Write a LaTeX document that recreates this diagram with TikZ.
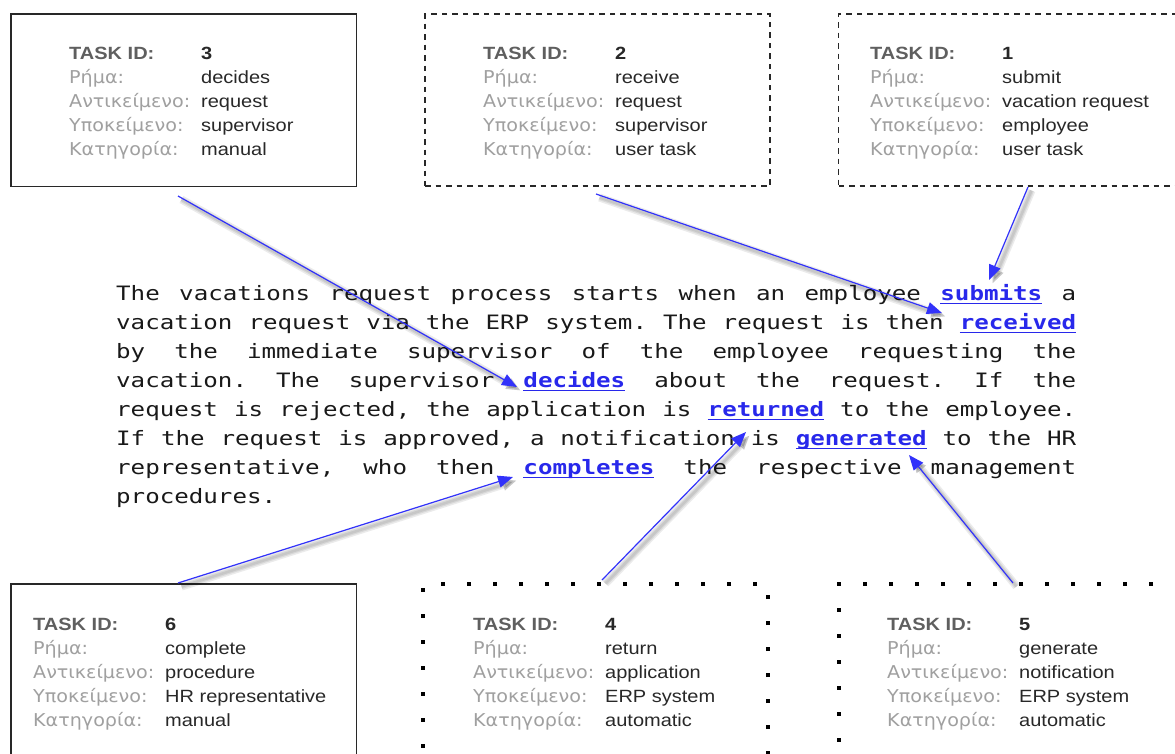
\documentclass[tikz,border=0pt]{standalone}
\usepackage{fontspec}
\usetikzlibrary{arrows.meta}
\setmainfont{Liberation Sans}[FakeStretch=1.13]
\newfontfamily\monofont{DejaVu Sans Mono}[FakeStretch=1.22]
\newfontfamily\greekfont{DejaVu Sans}[FakeStretch=1.08]

\definecolor{linkblue}{RGB}{40,40,235}
\definecolor{arrowblue}{RGB}{50,50,250}
\definecolor{labelgray}{RGB}{160,160,160}
\definecolor{headgray}{RGB}{95,95,95}
\definecolor{valuedark}{RGB}{40,40,40}
\definecolor{textdark}{RGB}{25,25,25}
\definecolor{framegray}{RGB}{40,40,40}

% task card: label column + value column
\newlength\colw \setlength\colw{132pt}
\newcommand\taskrow[2]{\hbox{\makebox[\colw][l]{\greekfont\color{labelgray}#1}{\color{valuedark}#2}}}
\newcommand\taskinfo[5]{\vtop{\baselineskip=24pt
  \hbox{\makebox[\colw][l]{\bfseries\color{headgray}TASK ID:}{\bfseries\color{valuedark}#1}}%
  \taskrow{Ρήμα:}{#2}%
  \taskrow{Αντικείμενο:}{#3}%
  \taskrow{Υποκείμενο:}{#4}%
  \taskrow{Κατηγορία:}{#5}}}

% justified prose line and underlined link word
\newsavebox\lnkbox
\newcommand\jline[1]{\hbox to 960pt{\frenchspacing\spaceskip=\fontdimen2\font plus 1fil minus 1pt\relax #1}}
\newcommand\lnk[1]{\sbox\lnkbox{\color{linkblue}\bfseries #1}%
  \rlap{{\color{linkblue}\rule[-3.8pt]{\wd\lnkbox}{1.4pt}}}\usebox\lnkbox}

\tikzset{
  boxsolid/.style={rectangle, inner sep=0pt, outer sep=0pt, draw=framegray, line width=1.3pt},
  boxdashed/.style={boxsolid, dash pattern=on 5.5pt off 5pt},
  boxdotted/.style={rectangle, inner sep=0pt, outer sep=0pt, draw=black, line width=4pt, dash pattern=on 4pt off 22pt},
  info/.style={anchor=base west, inner sep=0pt, font=\fontsize{17.7}{24}\selectfont},
  prose/.style={anchor=base west, inner sep=0pt, font=\monofont\fontsize{19.8}{29}\selectfont, text=textdark},
  link/.style={draw=arrowblue, line width=1.2pt, -{Triangle[length=15pt,width=12pt]}},
  linkshadow/.style={draw=black, line width=#1, opacity=0.08, -{Triangle[length=14pt,width=11pt]}},
}
\newcommand\castshadow[2]{\foreach \w in {8pt,5pt,2.5pt}{%
  \draw[linkshadow=\w] ([shift={(3.5,3.5)}]#1) -- ([shift={(3.5,3.5)}]#2);}}

\begin{document}
\begin{tikzpicture}[x=1pt,y=-1pt]
\useasboundingbox (0,0) rectangle (1175,753);
\clip (0,0) rectangle (1175,753);
\fill[white] (0,0) rectangle (1175,753);

% ---- task cards, top row
\node[boxsolid, minimum width=345.5pt, minimum height=172.5pt] (b3) at (183.75,100.25) {};
\node[boxdashed, minimum width=345pt, minimum height=172pt] (b2) at (597.5,100) {};
\node[boxdashed, minimum width=361.5pt, minimum height=172pt] (b1) at (1019.25,100) {};
\node[info] (i3) at (69,59) {\taskinfo{3}{decides}{request}{supervisor}{manual}};
\node[info] (i2) at (483,59) {\taskinfo{2}{receive}{request}{supervisor}{user task}};
\node[info] (i1) at (870,59) {\taskinfo{1}{submit}{vacation request}{employee}{user task}};

% ---- task cards, bottom row
\node[boxsolid, minimum width=345.5pt, minimum height=216pt] (b6) at (183.75,692) {};
\node[boxdotted, minimum width=345pt, minimum height=216pt] (b4) at (595.5,692) {};
\node[boxdotted, minimum width=361pt, minimum height=216pt] (b5) at (1019.5,692) {};
\node[info] (i6) at (33,630) {\taskinfo{6}{complete}{procedure}{HR representative}{manual}};
\node[info] (i4) at (473,630) {\taskinfo{4}{return}{application}{ERP system}{automatic}};
\node[info] (i5) at (887,630) {\taskinfo{5}{generate}{notification}{ERP system}{automatic}};

% ---- process description
\node[prose] (l1) at (116,300.5) {\jline{The vacations request process starts when an employee \lnk{submits} a}};
\node[prose] (l2) at (116,329.5) {\jline{vacation request via the ERP system. The request is then \lnk{received}}};
\node[prose] (l3) at (116,358.5) {\jline{by the immediate supervisor of the employee requesting the}};
\node[prose] (l4) at (116,387.5) {\jline{vacation. The supervisor \lnk{decides} about the request. If the}};
\node[prose] (l5) at (116,416.5) {\jline{request is rejected, the application is \lnk{returned} to the employee.}};
\node[prose] (l6) at (116,445.5) {\jline{If the request is approved, a notification is \lnk{generated} to the HR}};
\node[prose] (l7) at (116,474.5) {\jline{representative, who then \lnk{completes} the respective management}};
\node[prose] (l8) at (116,503.5) {procedures.};

% ---- connector ends
\coordinate (s1) at (1028,187);   \coordinate (t1) at (989,280);
\coordinate (s2) at (596,194);    \coordinate (t2) at (942,313);
\coordinate (s3) at (178,196);    \coordinate (t3) at (517,387);
\coordinate (s4) at (602,580);    \coordinate (t4) at (746,432);
\coordinate (s5) at (1013,583);   \coordinate (t5) at (909,455);
\coordinate (s6) at (178,583);    \coordinate (t6) at (513,477);

% ---- connectors with soft shadows
\foreach \k in {1,...,6}{\castshadow{s\k}{t\k}}
\foreach \k in {1,...,6}{\draw[link] (s\k) -- (t\k);}
\end{tikzpicture}
\end{document}
